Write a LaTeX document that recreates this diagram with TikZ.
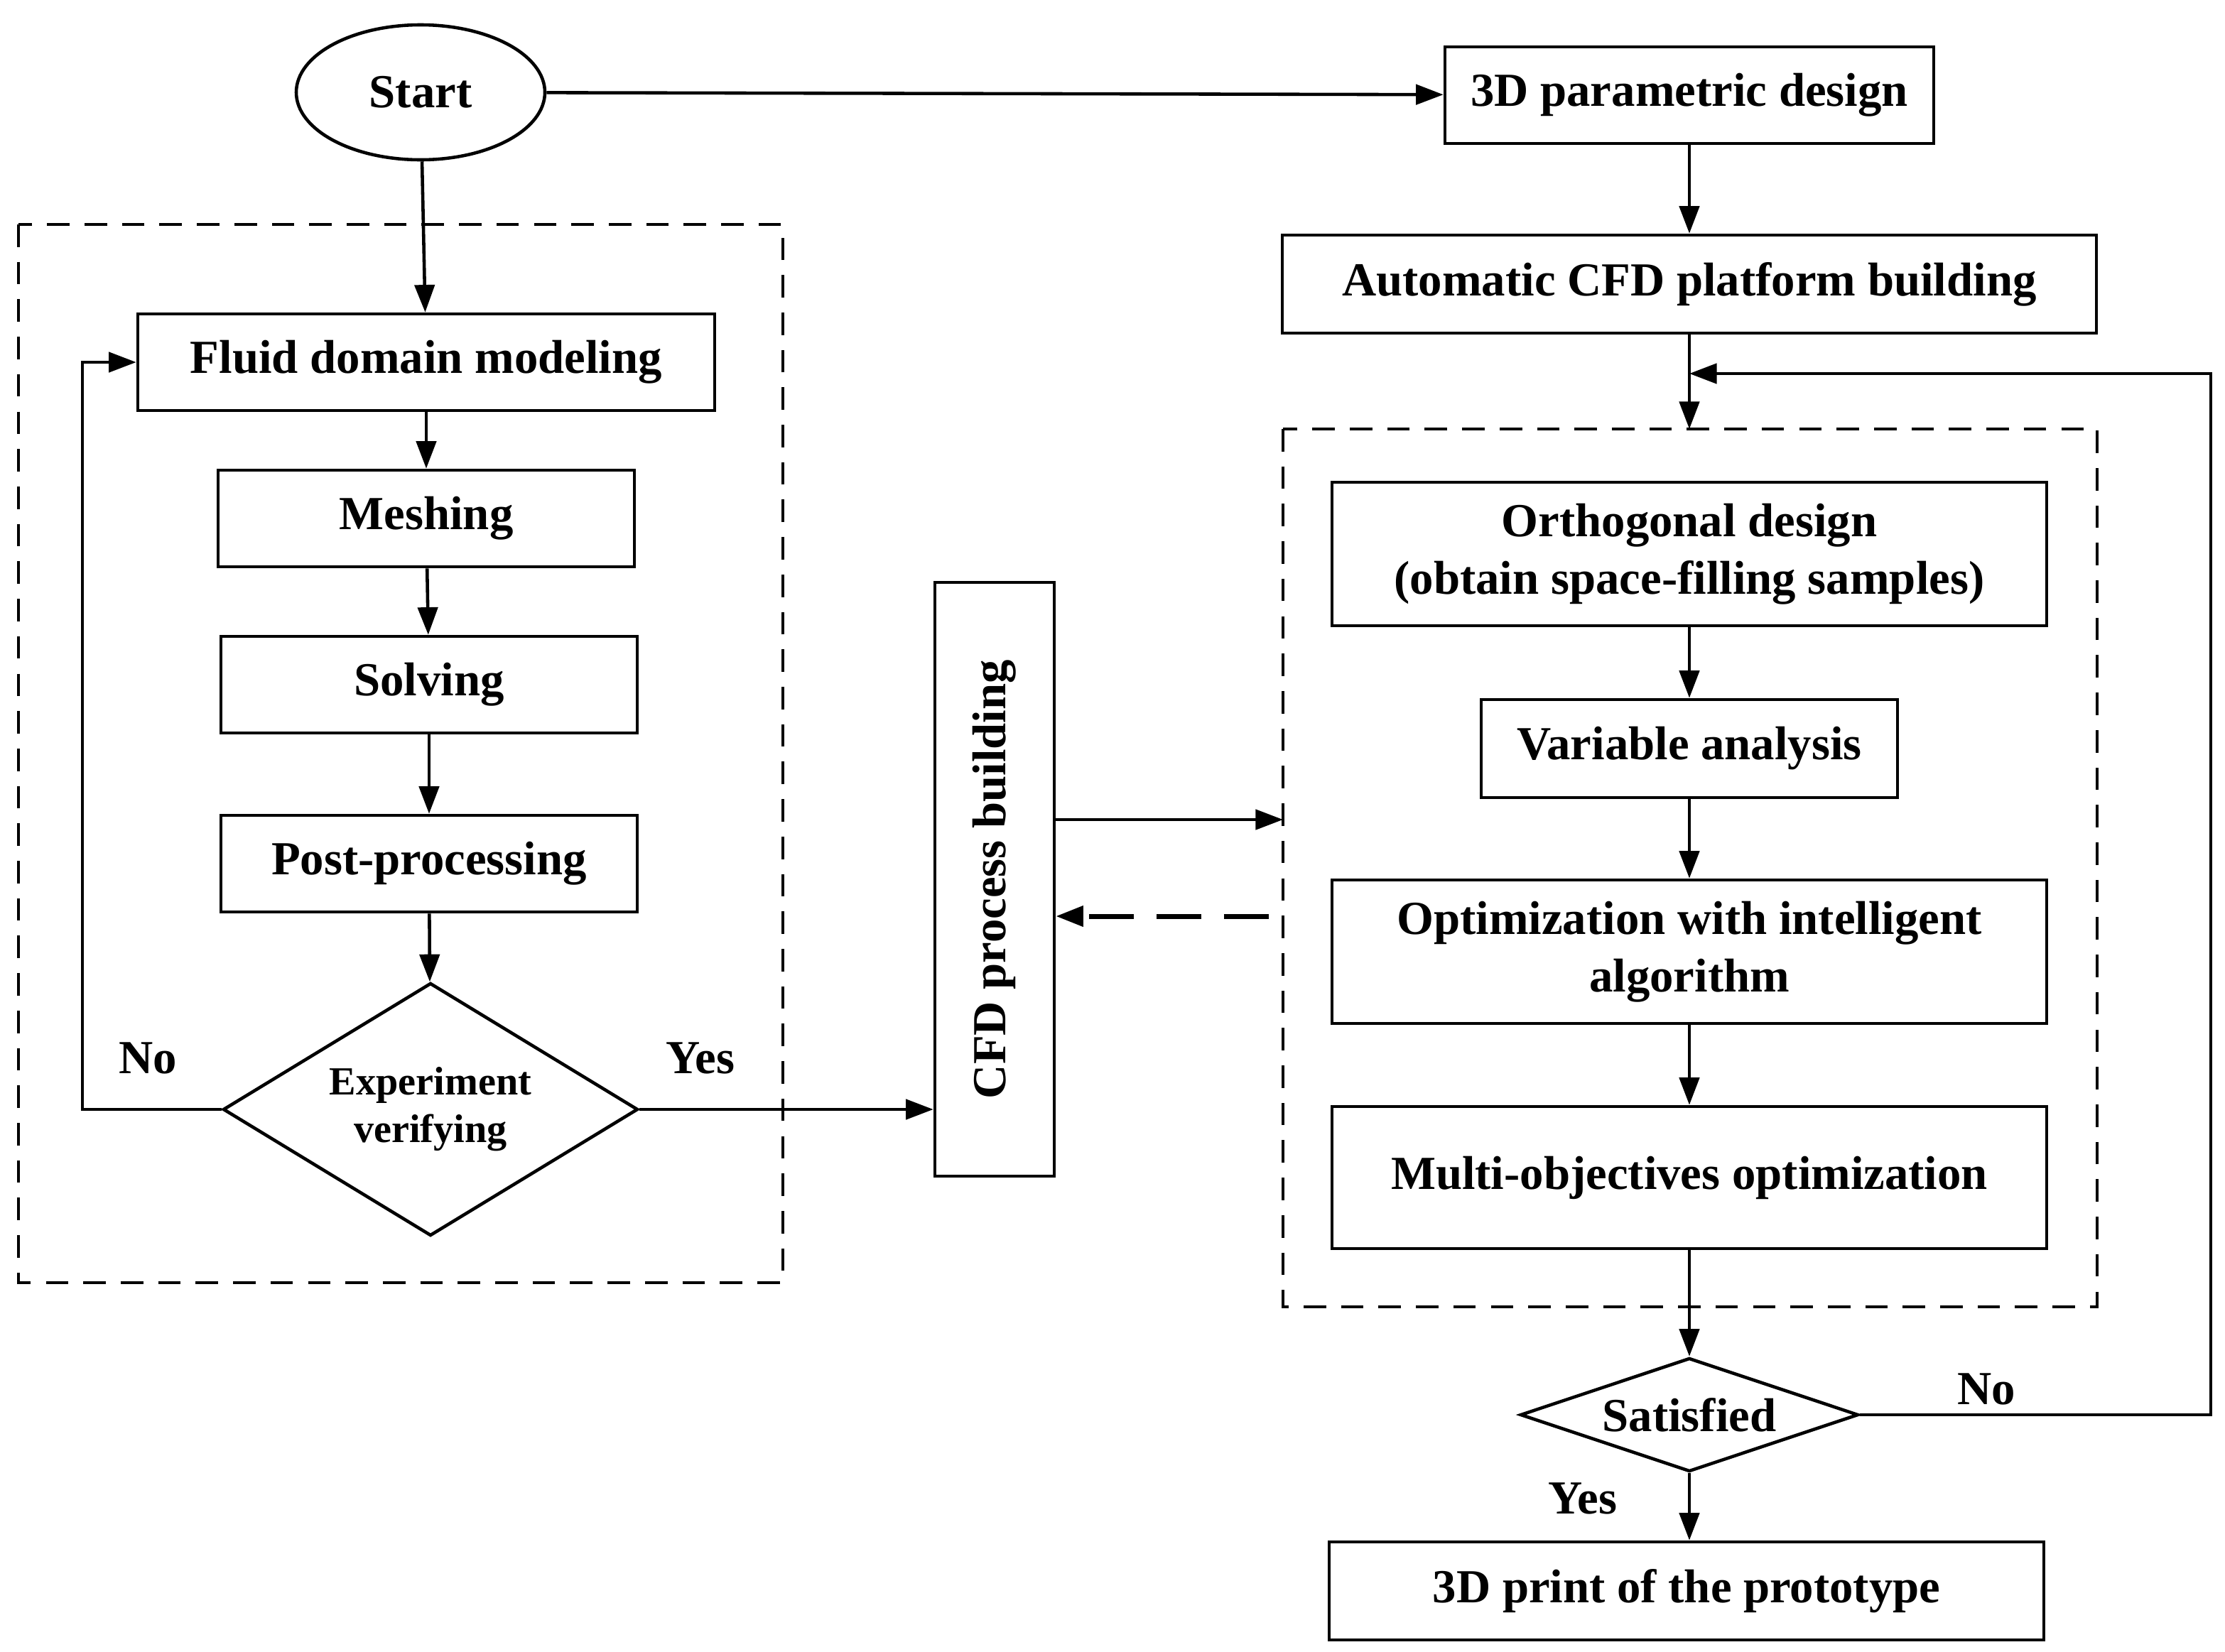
\documentclass[tikz,border=0pt]{standalone}
\usepackage{fontspec}
\setmainfont{Liberation Serif}
\usetikzlibrary{shapes.geometric,arrows.meta}
\begin{document}
\begin{tikzpicture}[x=0.02cm,y=-0.02cm,
  every node/.style={font=\fontsize{19}{23}\selectfont\bfseries},
  box/.style={draw,line width=1.3pt,inner sep=0pt,align=center},
  dia/.style={draw,line width=1.3pt,diamond,inner sep=0pt},
  arr/.style={line width=1.3pt,-{Triangle[length=11pt,width=8pt]}},
  dbox/.style={draw,line width=1.3pt,dash pattern=on 9pt off 6pt}]
\useasboundingbox (0,0) rectangle (1566,1163);
\draw[dbox] (13,158) rectangle (551,903);
\draw[dbox] (903,302) rectangle (1476,920);
\node[draw,ellipse,line width=1.3pt,minimum width=175*0.02cm,minimum height=95*0.02cm] (start) at (296,65) {Start};
\node[box,minimum width=344*0.02cm,minimum height=68*0.02cm] (par) at (1189,67) {3D parametric design};
\node[box,minimum width=573*0.02cm,minimum height=69*0.02cm] (auto) at (1189,200) {Automatic CFD platform building};
\node[box,minimum width=406*0.02cm,minimum height=68*0.02cm] (fluid) at (300,255) {Fluid domain modeling};
\node[box,minimum width=293*0.02cm,minimum height=68*0.02cm] (mesh) at (300,365) {Meshing};
\node[box,minimum width=293*0.02cm,minimum height=68*0.02cm] (solv) at (302,482) {Solving};
\node[box,minimum width=293*0.02cm,minimum height=68*0.02cm] (post) at (302,608) {Post-processing};
\node[dia,minimum width=292*0.02cm,minimum height=178*0.02cm] (exp) at (303,781) {};
\node[align=center,font=\fontsize{16}{19}\selectfont\bfseries] (expt) at (exp.center) {Experiment\\verifying};
\node[box,minimum width=418*0.02cm,minimum height=84*0.02cm,rotate=90] (cfd) at (700,619) {CFD process building};
\node[box,minimum width=503*0.02cm,minimum height=101*0.02cm] (orth) at (1189,390) {Orthogonal design\\(obtain space-filling samples)};
\node[box,minimum width=293*0.02cm,minimum height=69*0.02cm] (var) at (1189,527) {Variable analysis};
\node[box,minimum width=503*0.02cm,minimum height=101*0.02cm] (opt) at (1189,670) {Optimization with intelligent\\algorithm};
\node[box,minimum width=503*0.02cm,minimum height=100*0.02cm] (multi) at (1189,829) {Multi-objectives optimization};
\node[dia,minimum width=238*0.02cm,minimum height=80*0.02cm] (sat) at (1189,996) {};
\node (satt) at (sat.center) {Satisfied};
\node[box,minimum width=503*0.02cm,minimum height=69*0.02cm] (print) at (1187,1120) {3D print of the prototype};
\coordinate (rin) at (903,577);
\coordinate (rout) at (893,645);
\coordinate (rtop) at (1189,302);
\draw[arr] (start) -- (par);
\draw[arr] (start) -- (fluid);
\draw[arr] (fluid) -- (mesh);
\draw[arr] (mesh) -- (solv);
\draw[arr] (solv) -- (post);
\draw[arr] (post) -- (exp);
\draw[arr] (exp.west) -- (58,781) -- (58,255) -- (fluid.west);
\draw[arr] (exp.east) -- (cfd.north |- exp.east);
\draw[arr] (cfd.south |- rin) -- (rin);
\draw[arr,line width=2pt,dash pattern=on 18pt off 9pt] (rout) -- (cfd.south |- rout);
\draw[arr] (par) -- (auto);
\draw[arr] (auto) -- (rtop);
\draw[arr] (orth) -- (var);
\draw[arr] (var) -- (opt);
\draw[arr] (opt) -- (multi);
\draw[arr] (multi) -- (sat);
\draw[arr] (sat) -- (print.north -| sat);
\draw[arr] (sat.east) -- (1556,996) -- (1556,263) -- (1189,263);
\node at (104,745) {No};
\node at (493,745) {Yes};
\node at (1398,978) {No};
\node at (1114,1055) {Yes};
\end{tikzpicture}
\end{document}
